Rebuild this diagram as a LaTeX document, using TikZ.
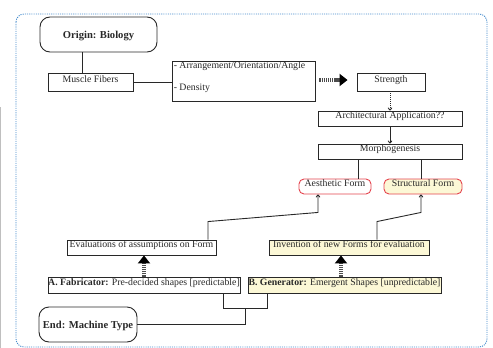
\documentclass[tikz,border=0pt]{standalone}
\usepackage{fontspec}
\setmainfont{Liberation Serif}
\usetikzlibrary{arrows.meta}
\definecolor{frameblue}{RGB}{70,140,205}
\definecolor{formred}{RGB}{228,68,78}
\definecolor{paleyellow}{RGB}{252,248,214}
\definecolor{ink}{RGB}{40,40,40}

\begin{document}
\begin{tikzpicture}[x=1pt,y=-1pt,
  every node/.style={font=\fontsize{9.8}{11}\selectfont, text=ink},
  plain/.style={draw=ink, line width=0.9pt, rectangle, inner sep=0pt, fill=white},
  box/.style={plain, text height=6.5pt, text depth=6.5pt},
  ybox/.style={box, fill=paleyellow},
  formbox/.style={box, draw=formred, rounded corners=5pt},
  endbox/.style={box, rounded corners=10pt, font=\fontsize{10.6}{12}\selectfont\bfseries, text height=8.5pt, text depth=0pt},
  link/.style={draw=ink, line width=0.9pt},
  thinarrow/.style={link, -{To[length=3pt,width=4.5pt]}},
  dotarrow/.style={thinarrow, dash pattern=on 1pt off 1pt},
  bigarrow/.style={draw=black!70, line width=3.2pt, dash pattern=on 1.4pt off 0.7pt,
    -{Triangle[length=8pt,width=12pt,color=black]}}
]
\useasboundingbox (0,0) rectangle (493,348);

% page edge and dotted frame
\draw[black!25, line width=1.2pt] (0.7,107) -- (0.7,348);
\draw[frameblue, line width=0.9pt, dash pattern=on 1.1pt off 1.1pt, rounded corners=8pt]
  (16,14) rectangle (487,347);

% top chain
\node[endbox, minimum width=117pt, minimum height=35pt] (origin) at (98.5,34.5) {Origin: Biology};
\node[box, minimum width=85pt, minimum height=18pt] (muscle) at (90.5,82) {Muscle Fibers};
\node[plain, minimum width=143pt, minimum height=40pt] (arr) at (243.5,81) {};
\node[anchor=base west, inner sep=0pt] (arrA) at ([xshift=2pt,yshift=-8.3pt]arr.north west) {- Arrangement/Orientation/Angle};
\node[anchor=base west, inner sep=0pt] (arrB) at ([xshift=2pt,yshift=-29.7pt]arr.north west) {- Density};
\node[box, minimum width=68pt, minimum height=18pt] (strength) at (391,82) {Strength};
\node[box, minimum width=144pt, minimum height=15pt] (arch) at (390,118.5) {Architectural Application??};
\node[box, minimum width=144pt, minimum height=15pt] (morph) at (390,151.5) {Morphogenesis};

% forms
\node[formbox, minimum width=72pt, minimum height=15pt] (aesth) at (335,186.5) {Aesthetic Form};
\node[formbox, fill=paleyellow, minimum width=78pt, minimum height=15pt] (struct) at (423,186.5) {Structural Form};

% evaluation layer
\node[box, minimum width=149pt, minimum height=15pt] (eval) at (141.5,247.5) {Evaluations of assumptions on Form};
\node[ybox, minimum width=160pt, minimum height=15pt] (inv) at (349,247.5) {Invention of new Forms for evaluation};

% machine types
\node[box, minimum width=192pt, minimum height=16pt] (fab) at (144,285) {\textbf{A. Fabricator:} Pre-decided shapes [predictable]};
\node[ybox, minimum width=193pt, minimum height=16pt] (gen) at (344.5,285) {\textbf{B. Generator:} Emergent Shapes [unpredictable]};
\node[endbox, minimum width=98pt, minimum height=35pt] (end) at (88,324.5) {End: Machine Type};
\coordinate (join) at (245,308);

% connectors
\draw[link] ([xshift=-16.5pt]origin.south) -- ([xshift=-16.5pt]origin.south |- muscle.north);
\draw[link] (muscle.east) -- (muscle.east -| arr.west);
\draw[bigarrow] ([xshift=4pt,yshift=1pt]arr.east) -- ([xshift=-9pt,yshift=1pt]strength.west |- arr.east);
\draw[dotarrow] (arch.north |- strength.south) -- (arch.north);
\draw[thinarrow] (arch.south) -- (morph.north);
\draw[link] ([xshift=-32pt]morph.south) -- ([xshift=-32pt]morph.south |- aesth.north);
\draw[link] ([xshift=31pt]morph.south) -- ([xshift=31pt]morph.south |- struct.north);
\draw[thinarrow] ([xshift=66.5pt]eval.north) -- ++(0,-18) -- ([xshift=-17pt,yshift=-18pt]aesth.south) -- ([xshift=-17pt]aesth.south);
\draw[thinarrow] ([xshift=28pt]inv.north) -- ++(0,-18) -- ([xshift=-2pt,yshift=-18pt]struct.south) -- ([xshift=-2pt]struct.south);
\draw[bigarrow] (fab.north) -- (fab.north |- eval.south);
\draw[bigarrow] ([xshift=-3.5pt]gen.north) -- ([xshift=-3.5pt]gen.north |- inv.south);
\draw[link] ([xshift=79pt]fab.south) |- ([xshift=-77.5pt]gen.south |- join) -- ([xshift=-77.5pt]gen.south);
\draw[link] (end.east) -| (join);
\end{tikzpicture}
\end{document}
